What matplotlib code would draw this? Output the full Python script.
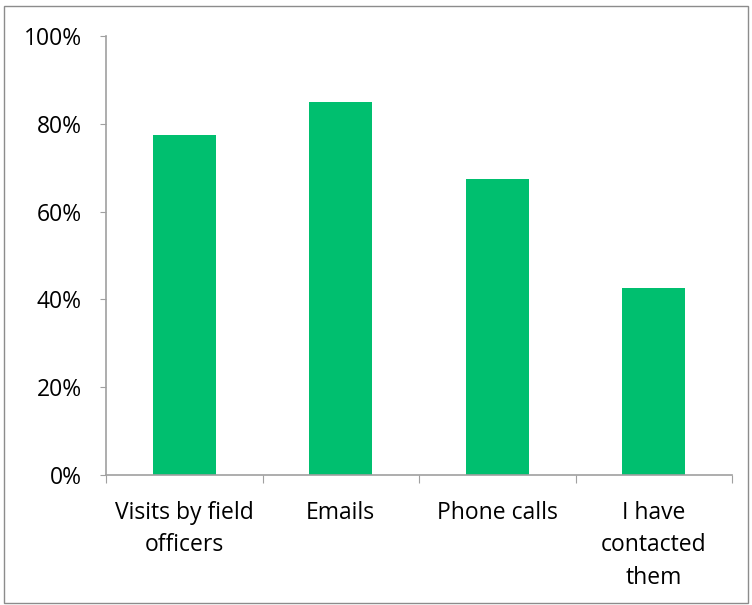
import matplotlib.pyplot as plt
from matplotlib.patches import Rectangle
from matplotlib.ticker import FuncFormatter

categories = ['Visits by field\nofficers', 'Emails', 'Phone calls', 'I have\ncontacted\nthem']
values = [77.5, 85, 67.5, 42.5]

plt.rcParams['font.family'] = ['Open Sans', 'DejaVu Sans']
plt.rcParams['font.size'] = 16.5

fig = plt.figure(figsize=(7.52, 6.05), dpi=100)
ax = fig.add_axes([106 / 752, 1 - 475 / 605, 626 / 752, 439 / 605])

x = list(range(len(categories)))
ax.bar(x, values, width=0.4, color='#00BF6F', zorder=2)

ax.set_xlim(-0.5, len(categories) - 0.5)
ax.set_ylim(0, 100)
ax.set_yticks([0, 20, 40, 60, 80, 100])
ax.yaxis.set_major_formatter(FuncFormatter(lambda v, p: f'{v:.0f}%'))

ax.set_xticks([i - 0.5 for i in range(len(categories) + 1)], minor=False)
ax.set_xticklabels([])
ax.set_xticks(x, minor=True)
ax.set_xticklabels(categories, minor=True, linespacing=1.45)
ax.tick_params(axis='x', which='minor', length=0, pad=19)
ax.tick_params(axis='x', which='major', length=6, color='#A0A0A0')
ax.tick_params(axis='y', length=4.5, color='#A0A0A0', pad=13)

for side in ['top', 'right']:
    ax.spines[side].set_visible(False)
for side in ['left', 'bottom']:
    ax.spines[side].set_color('#A0A0A0')
    ax.spines[side].set_linewidth(1.2)

# outer border
fig.patches.append(Rectangle((4 / 752, 2 / 605), 744 / 752, 597 / 605,
                             transform=fig.transFigure, fill=False,
                             edgecolor='#8C8C8C', linewidth=1))

fig.savefig('out.png', dpi=100, facecolor='white')
